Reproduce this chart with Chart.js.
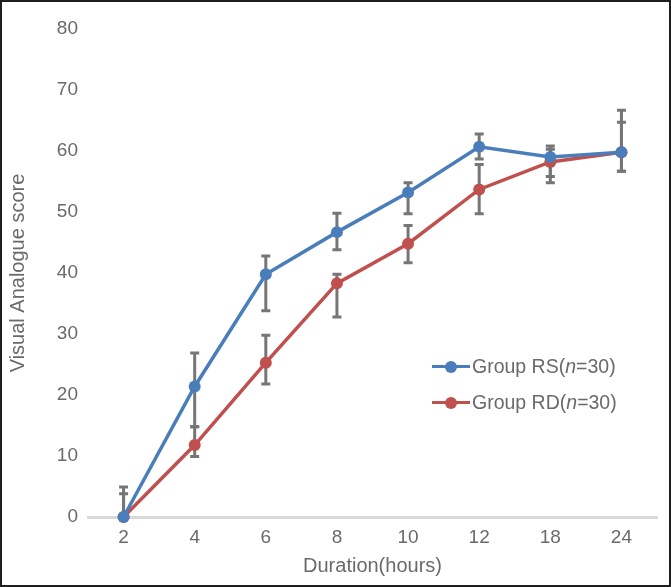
<!DOCTYPE html>
<html>
<head>
<meta charset="utf-8">
<script src="https://cdn.jsdelivr.net/npm/chart.js@4"></script>
<style>
  html, body { margin: 0; padding: 0; background: #fff; }
  #wrap { position: relative; width: 671px; height: 587px; overflow: hidden; }
  #chart { position: absolute; left: 0; top: 0; }
  #frame { position: absolute; left: 0; top: 0; width: 667px; height: 583px; border: 2px solid #1e1e1e; pointer-events: none; }
  .legend { position: absolute; left: 432px; top: 0; font: 19.5px "Liberation Sans", Arial, sans-serif; color: #6a6a6a; }
  .row { position: absolute; left: 0; height: 22px; display: flex; align-items: center; white-space: nowrap; }
  .mk { position: relative; width: 38px; height: 22px; margin-right: 2px; }
  .mk .ln { position: absolute; left: 0; top: 9.5px; width: 38px; height: 3.5px; }
  .mk .dt { position: absolute; left: 13px; top: 5.5px; width: 12px; height: 12px; border-radius: 50%; }
</style>
</head>
<body>
<div id="wrap">
  <canvas id="chart" width="671" height="587"></canvas>
  <div class="legend">
    <div class="row" style="top:355px"><span class="mk"><span class="ln" style="background:#4a7ebb"></span><span class="dt" style="background:#4a7ebb"></span></span>Group RS(<i>n</i>=30)</div>
    <div class="row" style="top:391px"><span class="mk"><span class="ln" style="background:#c0504d"></span><span class="dt" style="background:#c0504d"></span></span>Group RD(<i>n</i>=30)</div>
  </div>
  <div id="frame"></div>
</div>
<script>
// hours after surgery
const hours = ['2', '4', '6', '8', '10', '12', '18', '24'];

// mean visual analogue scores
const groupRS = [0, 21.4, 39.8, 46.7, 53.2, 60.7, 59.0, 59.8];
const groupRD = [0, 11.8, 25.3, 38.3, 44.8, 53.7, 58.2, 59.8];

// error bar ends as drawn in the figure
const rsLow  = [0, 14.8, 33.8, 43.8, 49.7, 58.7, 55.8, 56.7];
const rsHigh = [4.9, 26.9, 42.8, 49.8, 54.8, 62.8, 60.8, 66.7];
const rdLow  = [0, 9.9, 21.8, 32.8, 41.7, 49.7, 54.8, 56.7];
const rdHigh = [3.8, 14.8, 29.8, 39.8, 47.8, 57.8, 60.3, 64.7];

const blue = '#4a7ebb';
const red = '#c0504d';
const grey = '#6a6a6a';
const tickFont = { family: '"Liberation Sans", Arial, sans-serif', size: 19 };
const titleFont = { family: '"Liberation Sans", Arial, sans-serif', size: 20 };

const errorBars = {
    id: 'errorBars',
    beforeDatasetsDraw(chart) {
        const ctx = chart.ctx;
        const x = chart.scales.x;
        const y = chart.scales.y;
        const sets = [[rsLow, rsHigh], [rdLow, rdHigh]];
        ctx.save();
        ctx.strokeStyle = '#767676';
        ctx.lineWidth = 3;
        sets.forEach(([lo, hi]) => {
            hours.forEach((h, i) => {
                const px = x.getPixelForValue(i);
                const y1 = y.getPixelForValue(lo[i]);
                const y2 = y.getPixelForValue(hi[i]);
                ctx.beginPath();
                ctx.moveTo(px, y1);
                ctx.lineTo(px, y2);
                if (lo[i] > 0) {
                    ctx.moveTo(px - 4.5, y1);
                    ctx.lineTo(px + 4.5, y1);
                }
                ctx.moveTo(px - 4.5, y2);
                ctx.lineTo(px + 4.5, y2);
                ctx.stroke();
            });
        });
        ctx.restore();
    }
};

new Chart(document.getElementById('chart'), {
    type: 'line',
    data: {
        labels: hours,
        datasets: [
            {
                label: 'Group RS(n=30)',
                data: groupRS,
                borderColor: blue,
                backgroundColor: blue,
                borderWidth: 3.5,
                pointRadius: 6,
                pointBorderWidth: 0,
                tension: 0,
                clip: false,
            },
            {
                label: 'Group RD(n=30)',
                data: groupRD,
                borderColor: red,
                backgroundColor: red,
                borderWidth: 3.5,
                pointRadius: 6,
                pointBorderWidth: 0,
                tension: 0,
                clip: false,
            },
        ]
    },
    options: {
        responsive: false,
        animation: false,
        layout: { padding: { top: 29, right: 14, left: 0, bottom: 0 } },
        plugins: {
            legend: { display: false },
            tooltip: { enabled: false },
        },
        scales: {
            x: {
                offset: true,
                grid: { display: false, drawTicks: false },
                border: { display: true, color: '#d9d9d9', width: 3 },
                ticks: { color: grey, font: tickFont, padding: 9, maxRotation: 0 },
                title: { display: true, text: 'Duration(hours)', color: grey, font: titleFont, padding: { top: 4, bottom: 9 } },
                afterFit(scale) { scale.height = 70; },
            },
            y: {
                min: 0,
                max: 80,
                ticks: { stepSize: 10, color: grey, font: tickFont, padding: 10 },
                grid: { display: false, drawTicks: false },
                border: { display: false },
                title: { display: true, text: 'Visual Analogue score', color: grey, font: titleFont, padding: { top: 6, bottom: 4 } },
                afterFit(scale) { scale.width = 88; },
            }
        }
    },
    plugins: [errorBars]
});
</script>
</body>
</html>
